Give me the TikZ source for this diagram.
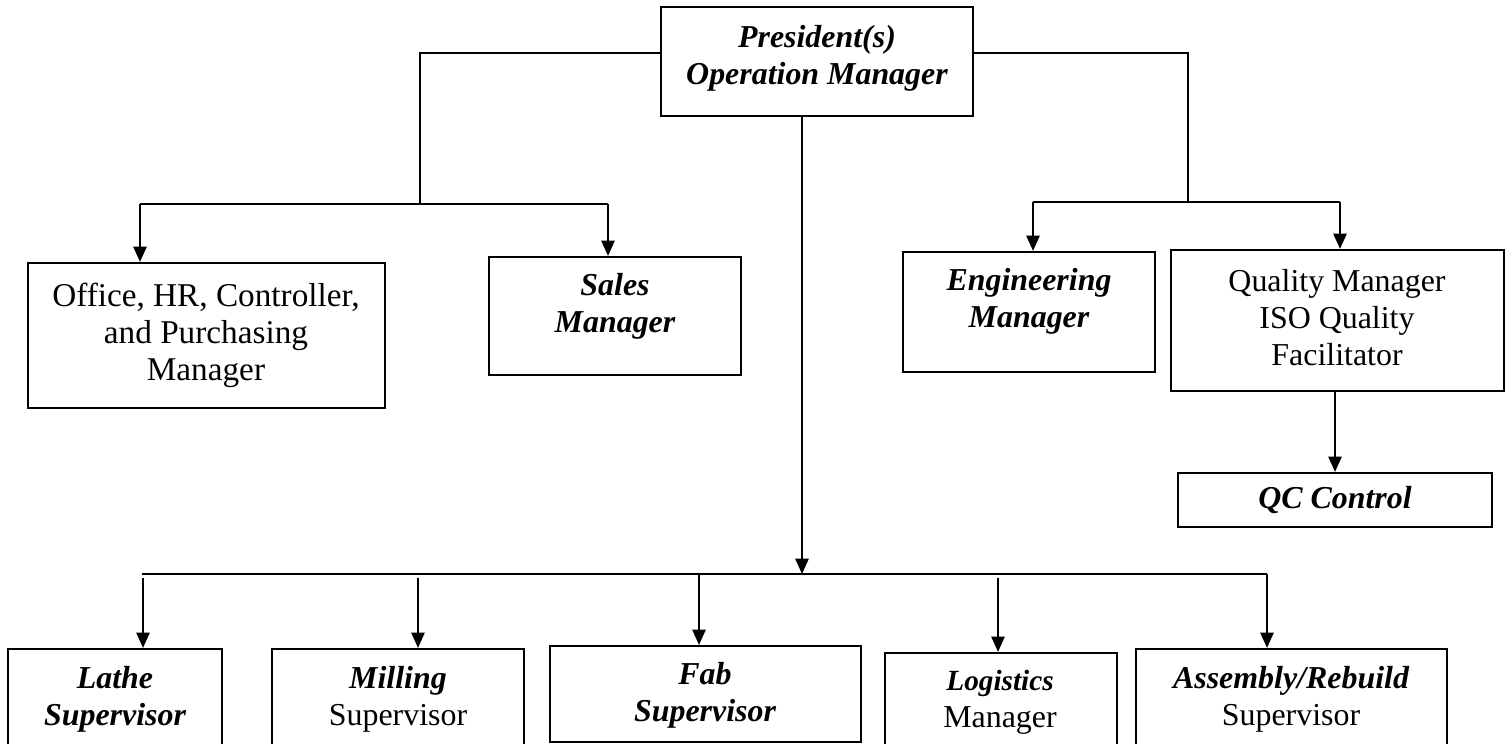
\documentclass[tikz,border=0pt]{standalone}
\usepackage{fontspec}
\setmainfont{Liberation Serif}
\usetikzlibrary{arrows.meta,fit}
\begin{document}
\begin{tikzpicture}[x=0.376pt,y=-0.376pt,
  box/.style={draw, line width=0.8pt, inner sep=0pt},
  txt/.style={align=center, font=\fontsize{12}{13.9}\selectfont, inner sep=0pt},
  conn/.style={line width=0.75pt},
  arr/.style={line width=0.75pt, -{Triangle[length=5.8pt,width=5pt]}}]
\useasboundingbox (0,0) rectangle (1509,744);
\clip (0,0) rectangle (1509,744);
% boxes
\node[box, fit={(661,7) (973,116)}] (pres) {};
\node[box, fit={(28,263) (385,408)}] (office) {};
\node[box, fit={(489,257) (741,375)}] (sales) {};
\node[box, fit={(903,252) (1155,372)}] (eng) {};
\node[box, fit={(1171,250) (1504,391)}] (qual) {};
\node[box, fit={(1178,473) (1492,527)}] (qc) {};
\node[box, fit={(8,649) (222,800)}] (lathe) {};
\node[box, fit={(272,649) (524,800)}] (mill) {};
\node[box, fit={(550,646) (861,742)}] (fab) {};
\node[box, fit={(885,653) (1117,800)}] (logi) {};
\node[box, fit={(1136,649) (1447,800)}] (asm) {};
% texts
\node[txt] (pres-t) at (817,58) {\bfseries\itshape President(s)\\\bfseries\itshape Operation Manager};
\node[txt, font=\fontsize{12.5}{13.9}\selectfont] (office-t) at (206,335) {Office, HR, Controller,\\and Purchasing\\Manager};
\node[txt] (sales-t) at (615,306) {\bfseries\itshape Sales\\\bfseries\itshape Manager};
\node[txt] (eng-t) at (1029,301) {\bfseries\itshape Engineering\\\bfseries\itshape Manager};
\node[txt] (qual-t) at (1337,318) {Quality Manager\\ISO Quality\\Facilitator};
\node[txt] (qc-t) at (1335,500) {\bfseries\itshape QC Control};
\node[txt] (lathe-t) at (115,699) {\bfseries\itshape Lathe\\\bfseries\itshape Supervisor};
\node[txt] (mill-t) at (398,699) {\bfseries\itshape Milling\\Supervisor};
\node[txt] (fab-t) at (705,695) {\bfseries\itshape Fab\\\bfseries\itshape Supervisor};
\node[txt] (logi-t) at (1000,702) {{\fontsize{11}{13.9}\selectfont\bfseries\itshape Logistics}\\Manager};
\node[txt] (asm-t) at (1291,699) {\bfseries\itshape Assembly/Rebuild\\Supervisor};
% coordinates
\coordinate (tl) at (420,53);
\coordinate (lj) at (420,204);
\coordinate (l1) at (140,204);
\coordinate (l2) at (608,204);
\coordinate (tr) at (1188,53);
\coordinate (rj) at (1188,202);
\coordinate (r1) at (1033,202);
\coordinate (r2) at (1340,202);
\coordinate (qa) at (1335,391);
\coordinate (mb) at (802,574);
\coordinate (b0) at (142,574);
\coordinate (b1) at (143,578);
\coordinate (b2) at (418,578);
\coordinate (b3) at (699,574);
\coordinate (b4) at (998,578);
\coordinate (b5) at (1267,574);
% connectors
\draw[conn] (pres.west |- tl) -- (tl) -- (lj);
\draw[conn] (l1) -- (l2);
\draw[arr] (l1) -- (l1 |- office.north);
\draw[arr] (l2) -- (l2 |- sales.north);
\draw[conn] (pres.east |- tr) -- (tr) -- (rj);
\draw[conn] (r1) -- (r2);
\draw[arr] (r1) -- (r1 |- eng.north);
\draw[arr] (r2) -- (r2 |- qual.north);
\draw[arr] (qa |- qual.south) -- (qa |- qc.north);
\draw[arr] (pres.south -| mb) -- (mb);
\draw[conn] (b0) -- (b5);
\draw[arr] (b1) -- (b1 |- lathe.north);
\draw[arr] (b2) -- (b2 |- mill.north);
\draw[arr] (b3) -- (b3 |- fab.north);
\draw[arr] (b4) -- (b4 |- logi.north);
\draw[arr] (b5) -- (b5 |- asm.north);
\end{tikzpicture}
\end{document}
